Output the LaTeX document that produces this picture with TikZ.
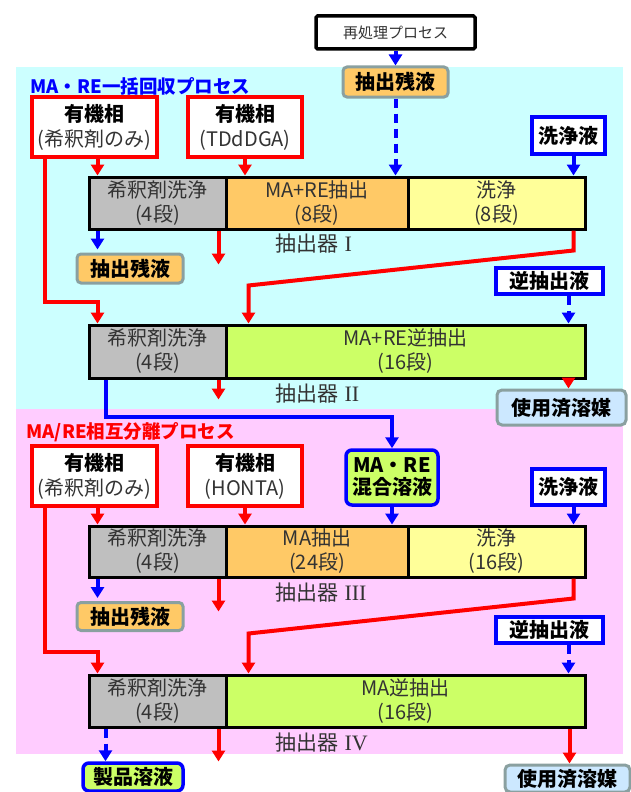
\documentclass[tikz,border=0pt]{standalone}
\usepackage{fontspec}
\setmainfont{Noto Sans CJK JP}
\newfontfamily\romanfont{Liberation Serif}
\usetikzlibrary{arrows.meta,calc}
\definecolor{cyanbg}{RGB}{204,255,255}
\definecolor{pinkbg}{RGB}{255,204,255}
\definecolor{graybk}{RGB}{191,191,191}
\definecolor{orangebk}{RGB}{255,201,102}
\definecolor{yellowbk}{RGB}{255,255,153}
\definecolor{greenbk}{RGB}{204,255,102}
\definecolor{txt}{RGB}{51,51,51}
\definecolor{tealgray}{RGB}{138,160,160}
\definecolor{lightblue}{RGB}{204,232,255}
\definecolor{myblue}{RGB}{0,0,255}
\definecolor{myred}{RGB}{255,0,0}
\tikzset{
  jp/.style={font=\fontsize{20}{24}\selectfont},
  blk/.style={jp, draw=black, line width=3pt, inner sep=0pt, align=center, text=txt},
  orgbox/.style={jp, draw=myred, fill=white, line width=3.5pt, inner sep=0pt, align=center, minimum width=125pt, minimum height=60pt},
  bluebox/.style={jp, draw=myblue, fill=white, line width=3.5pt, inner sep=0pt, align=center, font=\fontsize{20}{24}\selectfont\bfseries},
  zanbox/.style={jp, draw=tealgray, fill=orangebk, line width=3pt, rounded corners=4pt, inner sep=0pt, font=\fontsize{20}{24}\selectfont\bfseries, minimum width=106pt},
  usedbox/.style={jp, draw=tealgray, fill=lightblue, line width=3pt, rounded corners=5pt, inner sep=0pt, font=\fontsize{20}{24}\selectfont\bfseries},
  prodbox/.style={jp, draw=myblue, fill=greenbk, line width=3.5pt, rounded corners=6pt, inner sep=0pt, align=center, font=\fontsize{20}{22}\selectfont\bfseries},
  lab/.style={font=\fontsize{21}{24}\selectfont, text=txt},
  tip/.style={-{Triangle[width=13pt,length=11pt]}},
  redarr/.style={tip, draw=myred, line width=4pt},
  bluearr/.style={tip, draw=myblue, line width=4pt},
  bluedash/.style={tip, draw=myblue, line width=4pt, dash pattern=on 9pt off 6pt},
}
\newcommand{\rnum}[1]{\hspace{6pt}{\romanfont\fontsize{22}{24}\selectfont #1}}
\begin{document}
\begin{tikzpicture}[x=1pt,y=-1pt]
\useasboundingbox (0,0) rectangle (631,792);
\fill[cyanbg] (16,67) rectangle (623,409);
\fill[pinkbg] (16,409) rectangle (623,754);

% ---------- top ----------
\node[jp, draw=black, line width=3.5pt, rounded corners=1.5pt, fill=white, minimum width=159pt, minimum height=33pt, inner sep=0pt, font=\fontsize{15}{18}\selectfont, text=txt] (reproc) at (395.5,32.5) {再処理プロセス};
\node[zanbox, minimum width=105pt, minimum height=30pt] (zan0) at (395.5,82) {抽出残液};
\node[anchor=west, text=myblue, font=\fontsize{18.5}{22}\selectfont\bfseries] (title1) at (27,86) {MA・RE一括回収プロセス};

\node[orgbox] (org1) at (94.5,127) {\textbf{有機相}\\[1pt]{\color{txt}(希釈剤のみ)}};
\node[orgbox, minimum width=114pt] (org2) at (245,127) {\textbf{有機相}\\[1pt]{\color{txt}(TDdDGA)}};
\node[bluebox, minimum width=73pt, minimum height=37pt] (wash1) at (568.5,135.5) {洗浄液};

% block I
\node[blk, fill=graybk, minimum width=137pt, minimum height=52pt] (b1a) at (157.5,203) {希釈剤洗浄\\(4段)};
\node[blk, fill=orangebk, minimum width=182pt, minimum height=52pt] (b1b) at (317,203) {MA+RE抽出\\(8段)};
\node[blk, fill=yellowbk, minimum width=177pt, minimum height=52pt] (b1c) at (496.5,203) {洗浄\\(8段)};
\node[lab, anchor=west] (lab1) at (272,244) {抽出器\rnum{I}};
\node[zanbox, minimum height=29pt] (zan1) at (130,268.5) {抽出残液};

\node[bluebox, minimum width=107pt, minimum height=26pt] (rev1) at (549.5,281) {逆抽出液};

% block II
\node[blk, fill=graybk, minimum width=137pt, minimum height=53pt] (b2a) at (157.5,351.5) {希釈剤洗浄\\(4段)};
\node[blk, fill=greenbk, minimum width=359pt, minimum height=53pt] (b2b) at (405.5,351.5) {MA+RE逆抽出\\(16段)};
\node[lab, anchor=west] (lab2) at (272,394) {抽出器\rnum{II}};
\node[usedbox, minimum width=129pt, minimum height=35pt] (used1) at (561.5,407.5) {使用済溶媒};

% ---------- second process ----------
\node[anchor=west, text=myred, font=\fontsize{18.5}{22}\selectfont\bfseries] (title2) at (23,432) {MA/RE相互分離プロセス};
\node[orgbox] (org3) at (94.5,476) {\textbf{有機相}\\[1pt]{\color{txt}(希釈剤のみ)}};
\node[orgbox, minimum width=114pt] (org4) at (245,476) {\textbf{有機相}\\[1pt]{\color{txt}(HONTA)}};
\node[prodbox, minimum width=92pt, minimum height=55pt] (mixed) at (392,477.5) {MA・RE\\混合溶液};
\node[bluebox, minimum width=73pt, minimum height=36pt] (wash2) at (568.5,487) {洗浄液};

% block III
\node[blk, fill=graybk, minimum width=137pt, minimum height=51pt] (b3a) at (157.5,551.5) {希釈剤洗浄\\(4段)};
\node[blk, fill=orangebk, minimum width=182pt, minimum height=51pt] (b3b) at (317,551.5) {MA抽出\\(24段)};
\node[blk, fill=yellowbk, minimum width=177pt, minimum height=51pt] (b3c) at (496.5,551.5) {洗浄\\(16段)};
\node[lab, anchor=west] (lab3) at (272,593) {抽出器\rnum{III}};
\node[zanbox, minimum height=28pt] (zan2) at (130,616.5) {抽出残液};

\node[bluebox, minimum width=107pt, minimum height=26pt] (rev2) at (549.5,630) {逆抽出液};

% block IV
\node[blk, fill=graybk, minimum width=137pt, minimum height=52pt] (b4a) at (157.5,701) {希釈剤洗浄\\(4段)};
\node[blk, fill=greenbk, minimum width=359pt, minimum height=52pt] (b4b) at (405.5,701) {MA逆抽出\\(16段)};
\node[lab, anchor=west] (lab4) at (272,743) {抽出器\rnum{IV}};
\node[prodbox, minimum width=100pt, minimum height=28pt] (prod) at (133,777) {製品溶液};
\node[usedbox, minimum width=125pt, minimum height=27pt] (used2) at (567.5,778.5) {使用済溶媒};

% ---------- connectors: process 1 ----------
\draw[bluearr] (reproc.south) -- (zan0.north);
\draw[bluedash] (zan0.south) -- (zan0.south |- b1b.north);
\draw[redarr] ([xshift=10pt]b1a.north west |- org1.south) -- ([xshift=10pt]b1a.north west);
\draw[redarr] (org2.south) -- (org2.south |- b1b.north);
\draw[bluearr] ([xshift=-13pt]b1c.north east |- wash1.south) -- ([xshift=-13pt]b1c.north east);
\draw[bluearr] ([xshift=10pt]b1a.south west) -- ([xshift=10pt,yshift=3pt]b1a.south west |- zan1.north);
\draw[redarr] ([xshift=-9pt]b1a.south east) -- ++(0,34);
\draw[redarr] ([xshift=15pt]org1.south west) |- ([xshift=10pt,yshift=22pt]b2a.north west) -- ([xshift=10pt]b2a.north west);
\draw[redarr] ([xshift=-13pt]b1c.south east) -- ++(0,20) -- ([xshift=24pt,yshift=38pt]b2b.north west) -- ([xshift=24pt]b2b.north west);
\draw[bluedash] ([xshift=-18pt]b2b.north east |- rev1.south) -- ([xshift=-18pt]b2b.north east);
\draw[redarr] ([xshift=-9pt]b2a.south east) -- ++(0,20);
\draw[redarr] ([xshift=-18pt]b2b.south east) -- ([xshift=-18pt]b2b.south east |- used1.north);
\draw[bluearr] ([xshift=18pt]b2a.south west) -- ++(0,37) -| (mixed.north);

% ---------- connectors: process 2 ----------
\draw[redarr] ([xshift=10pt]b3a.north west |- org3.south) -- ([xshift=10pt]b3a.north west);
\draw[redarr] (org4.south) -- (org4.south |- b3b.north);
\draw[bluearr] (mixed.south) -- (mixed.south |- b3b.north);
\draw[bluearr] ([xshift=-13pt]b3c.north east |- wash2.south) -- ([xshift=-13pt]b3c.north east);
\draw[bluearr] ([xshift=10pt]b3a.south west) -- ([xshift=10pt,yshift=3pt]b3a.south west |- zan2.north);
\draw[redarr] ([xshift=-9pt]b3a.south east) -- ++(0,33);
\draw[redarr] ([xshift=15pt]org3.south west) |- ([xshift=10pt,yshift=22pt]b4a.north west) -- ([xshift=10pt]b4a.north west);
\draw[redarr] ([xshift=-13pt]b3c.south east) -- ++(0,20) -- ([xshift=24pt,yshift=40pt]b4b.north west) -- ([xshift=24pt]b4b.north west);
\draw[bluedash] ([xshift=-18pt]b4b.north east |- rev2.south) -- ([xshift=-18pt]b4b.north east);
\draw[bluedash] ([xshift=18pt]b4a.south west) -- ([xshift=18pt]b4a.south west |- prod.north);
\draw[redarr] ([xshift=-9pt]b4a.south east) -- ++(0,33);
\draw[redarr] ([xshift=-17pt]b4b.south east) -- ([xshift=-17pt]b4b.south east |- used2.north);
\end{tikzpicture}
\end{document}
